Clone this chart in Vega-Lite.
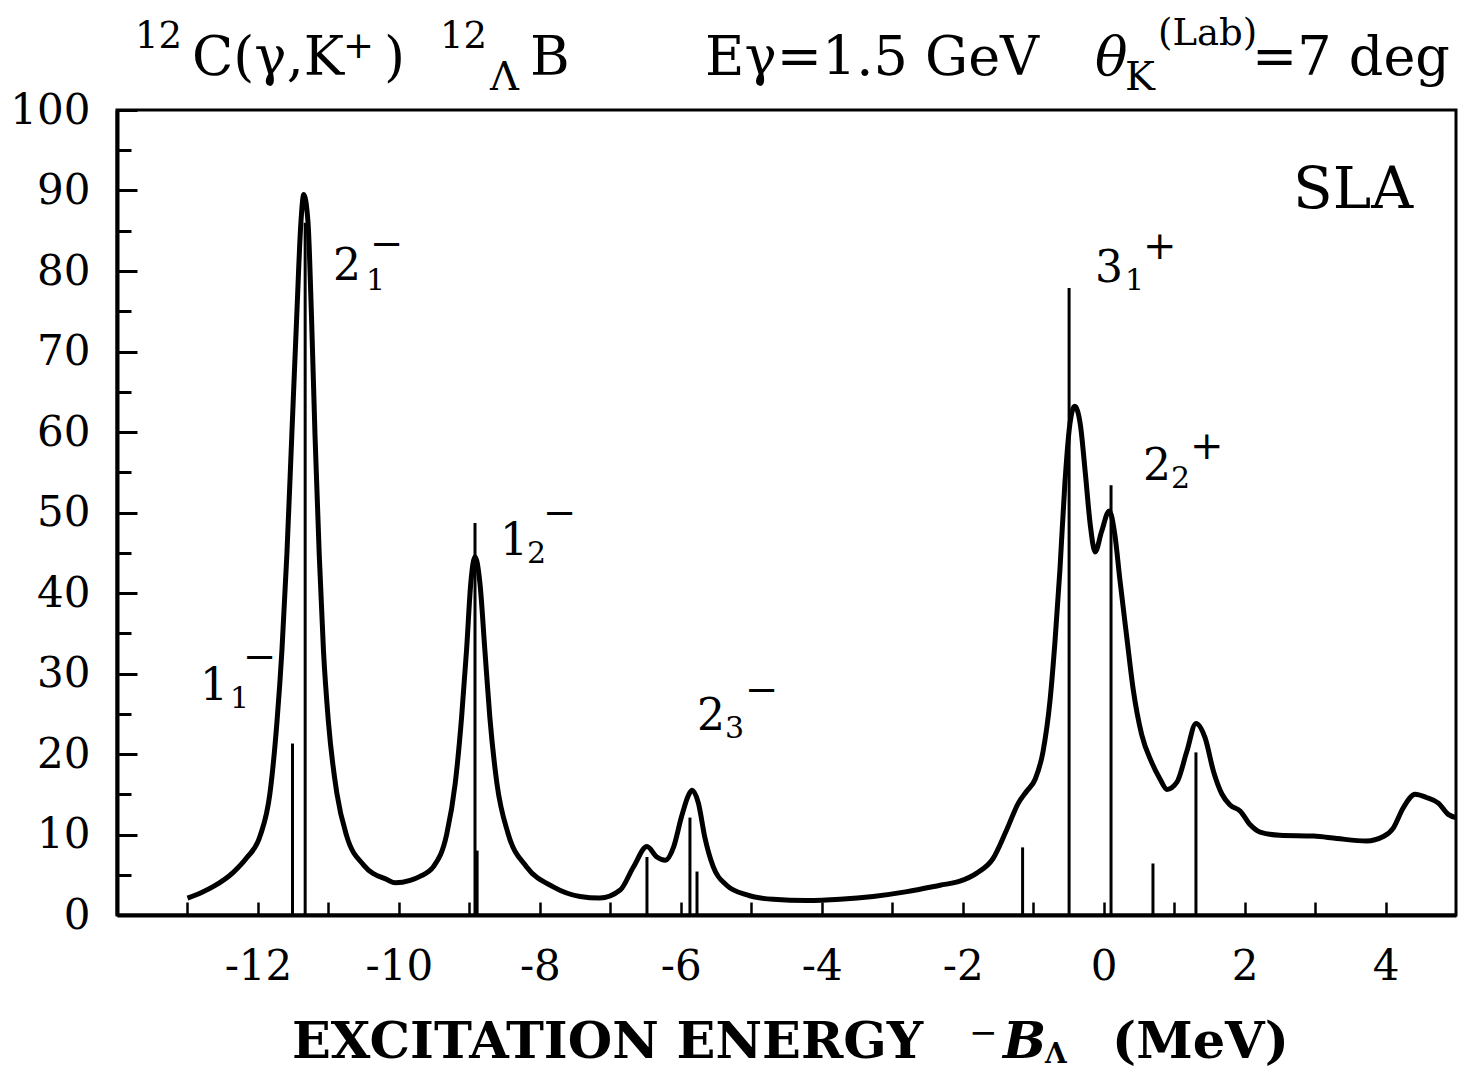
{
  "$schema": "https://vega.github.io/schema/vega-lite/v6.json",
  "width": 1339,
  "height": 805,
  "autosize": {"type": "none"},
  "padding": {"left": 117, "top": 110, "right": 4, "bottom": 154},
  "background": "white",
  "config": {
    "view": {"stroke": "black", "strokeWidth": 3},
    "text": {"font": "DejaVu Serif", "color": "black", "align": "left", "baseline": "alphabetic"}
  },
  "datasets": {
    "curve": [
      {"e": -13.0, "s": 2.1}, {"e": -12.8, "s": 2.8}, {"e": -12.63, "s": 3.55}, {"e": -12.35, "s": 5.3},
      {"e": -12.16, "s": 7.1}, {"e": -11.97, "s": 9.8}, {"e": -11.83, "s": 15.1}, {"e": -11.73, "s": 24.0},
      {"e": -11.66, "s": 32.8}, {"e": -11.59, "s": 44.7}, {"e": -11.52, "s": 59.5}, {"e": -11.45, "s": 74.3},
      {"e": -11.39, "s": 86.1}, {"e": -11.35, "s": 89.5}, {"e": -11.29, "s": 86.1}, {"e": -11.24, "s": 74.3},
      {"e": -11.19, "s": 59.5}, {"e": -11.13, "s": 44.7}, {"e": -11.07, "s": 32.8}, {"e": -11.0, "s": 24.0},
      {"e": -10.88, "s": 15.1}, {"e": -10.74, "s": 9.8}, {"e": -10.5, "s": 6.2}, {"e": -10.17, "s": 4.4},
      {"e": -10.05, "s": 4.0}, {"e": -9.84, "s": 4.3}, {"e": -9.7, "s": 4.8}, {"e": -9.51, "s": 6.0},
      {"e": -9.32, "s": 10.1}, {"e": -9.2, "s": 16.4}, {"e": -9.11, "s": 24.6}, {"e": -9.04, "s": 32.9},
      {"e": -8.98, "s": 41.2}, {"e": -8.92, "s": 44.5}, {"e": -8.85, "s": 41.2}, {"e": -8.78, "s": 32.9},
      {"e": -8.71, "s": 24.6}, {"e": -8.61, "s": 16.4}, {"e": -8.45, "s": 10.1}, {"e": -8.19, "s": 6.0},
      {"e": -7.81, "s": 3.5}, {"e": -7.43, "s": 2.3}, {"e": -7.15, "s": 2.1}, {"e": -6.86, "s": 3.1},
      {"e": -6.67, "s": 6.0}, {"e": -6.48, "s": 8.5}, {"e": -6.34, "s": 7.2}, {"e": -6.22, "s": 6.8},
      {"e": -6.1, "s": 8.5}, {"e": -5.99, "s": 12.2}, {"e": -5.89, "s": 14.9}, {"e": -5.84, "s": 15.5},
      {"e": -5.75, "s": 13.9}, {"e": -5.66, "s": 9.7}, {"e": -5.54, "s": 6.0}, {"e": -5.35, "s": 3.7},
      {"e": -5.06, "s": 2.5}, {"e": -4.69, "s": 1.95}, {"e": -4.21, "s": 1.8}, {"e": -3.74, "s": 1.95},
      {"e": -3.27, "s": 2.3}, {"e": -2.79, "s": 2.9}, {"e": -2.32, "s": 3.7}, {"e": -2.04, "s": 4.2},
      {"e": -1.8, "s": 5.2}, {"e": -1.57, "s": 7.0}, {"e": -1.38, "s": 10.5}, {"e": -1.21, "s": 13.9},
      {"e": -1.09, "s": 15.4}, {"e": -0.97, "s": 16.9}, {"e": -0.86, "s": 20.3}, {"e": -0.76, "s": 26.7},
      {"e": -0.69, "s": 34.0}, {"e": -0.62, "s": 42.9}, {"e": -0.55, "s": 53.6}, {"e": -0.48, "s": 60.9},
      {"e": -0.41, "s": 63.2}, {"e": -0.33, "s": 60.9}, {"e": -0.26, "s": 54.9}, {"e": -0.19, "s": 48.5},
      {"e": -0.12, "s": 45.1}, {"e": -0.03, "s": 47.6}, {"e": 0.08, "s": 50.2}, {"e": 0.16, "s": 47.2},
      {"e": 0.23, "s": 41.7}, {"e": 0.33, "s": 34.4}, {"e": 0.42, "s": 28.0}, {"e": 0.54, "s": 22.4},
      {"e": 0.68, "s": 19.0}, {"e": 0.8, "s": 16.9}, {"e": 0.9, "s": 15.6}, {"e": 1.04, "s": 16.5},
      {"e": 1.18, "s": 20.3}, {"e": 1.31, "s": 23.8}, {"e": 1.44, "s": 22.0}, {"e": 1.56, "s": 17.8},
      {"e": 1.68, "s": 15.0}, {"e": 1.79, "s": 13.7}, {"e": 1.94, "s": 12.9}, {"e": 2.08, "s": 11.2},
      {"e": 2.22, "s": 10.3}, {"e": 2.5, "s": 9.9}, {"e": 2.98, "s": 9.8}, {"e": 3.31, "s": 9.5},
      {"e": 3.73, "s": 9.2}, {"e": 3.97, "s": 9.75}, {"e": 4.11, "s": 10.8}, {"e": 4.25, "s": 13.3},
      {"e": 4.42, "s": 15.0}, {"e": 4.58, "s": 14.6}, {"e": 4.75, "s": 13.9}, {"e": 4.89, "s": 12.5},
      {"e": 5.0, "s": 12.1}
    ],
    "sticks": [
      {"e": -11.51, "s": 21.3}, {"e": -11.33, "s": 86.0}, {"e": -8.92, "s": 48.7}, {"e": -8.89, "s": 8.0},
      {"e": -6.48, "s": 7.2}, {"e": -5.87, "s": 12.1}, {"e": -5.77, "s": 5.4}, {"e": -1.15, "s": 8.4},
      {"e": -0.49, "s": 77.9}, {"e": 0.105, "s": 53.4}, {"e": 0.7, "s": 6.4}, {"e": 1.31, "s": 20.2}
    ],
    "titleMain": [
      {"e": -12.936, "s": 104.35, "t": "C(γ,K"},
      {"e": -10.211, "s": 104.35, "t": ")"},
      {"e": -8.139, "s": 104.35, "t": "B"},
      {"e": -5.656, "s": 104.35, "t": "Eγ=1.5 GeV"},
      {"e": 2.106, "s": 104.35, "t": "=7 deg"}
    ],
    "titleSup": [
      {"e": -13.745, "s": 107.7, "t": "12"},
      {"e": -10.793, "s": 106.46, "t": "+"},
      {"e": -9.416, "s": 107.7, "t": "12"},
      {"e": 0.772, "s": 108.07, "t": "(Lab)"}
    ],
    "titleSub": [
      {"e": -8.707, "s": 102.48, "t": "Λ"},
      {"e": 0.304, "s": 102.48, "t": "K"}
    ],
    "titleItalic": [
      {"e": -0.122, "s": 104.35, "t": "θ"}
    ],
    "axisTitleBold": [
      {"e": -11.517, "s": -17.76, "t": "EXCITATION ENERGY"},
      {"e": 0.12, "s": -17.76, "t": "(MeV)"}
    ],
    "axisTitleMinus": [
      {"e": -1.91, "s": -16.02, "t": "−"}
    ],
    "axisTitleItalic": [
      {"e": -1.427, "s": -17.76, "t": "B"}
    ],
    "axisTitleSub": [
      {"e": -0.831, "s": -18.38, "t": "Λ"}
    ],
    "stateMain": [
      {"e": -10.935, "s": 78.88, "t": "2"},
      {"e": -12.822, "s": 26.71, "t": "1"},
      {"e": -8.565, "s": 44.72, "t": "1"},
      {"e": -5.77, "s": 22.98, "t": "2"},
      {"e": -0.122, "s": 78.63, "t": "3"},
      {"e": 0.559, "s": 54.04, "t": "2"}
    ],
    "stateSub": [
      {"e": -10.467, "s": 77.64, "t": "1"},
      {"e": -12.397, "s": 25.71, "t": "1"},
      {"e": -8.182, "s": 43.73, "t": "2"},
      {"e": -5.372, "s": 21.99, "t": "3"},
      {"e": 0.304, "s": 77.64, "t": "1"},
      {"e": 0.957, "s": 53.04, "t": "2"}
    ],
    "stateSup": [
      {"e": -10.41, "s": 81.74, "t": "−"},
      {"e": -12.212, "s": 30.43, "t": "−"},
      {"e": -7.955, "s": 48.32, "t": "−"},
      {"e": -5.088, "s": 26.34, "t": "−"},
      {"e": 0.559, "s": 81.49, "t": "+"},
      {"e": 1.226, "s": 56.65, "t": "+"}
    ],
    "model": [
      {"e": 2.688, "s": 87.83, "t": "SLA"}
    ]
  },
  "resolve": {"axis": {"x": "independent", "y": "independent"}},
  "layer": [
    {
      "data": {"name": "curve"},
      "mark": {"type": "line", "color": "black", "strokeWidth": 5, "interpolate": "monotone"},
      "encoding": {
        "x": {
          "field": "e", "type": "quantitative",
          "scale": {"domain": [-14, 5], "nice": false, "zero": false},
          "axis": {
            "orient": "bottom",
            "values": [-13, -12, -11, -10, -9, -8, -7, -6, -5, -4, -3, -2, -1, 0, 1, 2, 3, 4],
            "labelExpr": "datum.value % 2 === 0 ? replace(datum.label, '−', '-') : ''",
            "tickSize": -13, "tickWidth": 2.5, "tickColor": "black",
            "domainColor": "black", "domainWidth": 4,
            "labelFont": "DejaVu Serif", "labelFontSize": 42, "labelColor": "black",
            "labelPadding": 44, "labelFlush": false, "labelOverlap": false,
            "grid": false, "title": null
          }
        },
        "y": {
          "field": "s", "type": "quantitative",
          "scale": {"domain": [0, 100], "nice": false, "zero": false},
          "axis": {
            "orient": "left",
            "values": [0, 10, 20, 30, 40, 50, 60, 70, 80, 90, 100],
            "tickSize": -20, "tickWidth": 3, "tickColor": "black",
            "domainColor": "black", "domainWidth": 4,
            "labelFont": "DejaVu Serif", "labelFontSize": 42, "labelColor": "black",
            "labelPadding": 47, "labelFlush": false, "labelOverlap": false,
            "grid": false, "title": null
          }
        }
      }
    },
    {
      "data": {"name": "sticks"},
      "mark": {"type": "rule", "color": "black", "strokeWidth": 3},
      "encoding": {
        "x": {"field": "e", "type": "quantitative", "axis": null},
        "y": {
          "field": "s", "type": "quantitative",
          "axis": {
            "orient": "left",
            "values": [5, 15, 25, 35, 45, 55, 65, 75, 85, 95],
            "tickSize": -14, "tickWidth": 3, "tickColor": "black",
            "domain": false, "labels": false, "grid": false, "title": null
          }
        },
        "y2": {"datum": 0}
      }
    },
    {
      "data": {"name": "titleMain"},
      "mark": {"type": "text", "fontSize": 54},
      "encoding": {
        "x": {"field": "e", "type": "quantitative", "axis": null},
        "y": {"field": "s", "type": "quantitative", "axis": null},
        "text": {"field": "t"}
      }
    },
    {
      "data": {"name": "titleSup"},
      "mark": {"type": "text", "fontSize": 37},
      "encoding": {
        "x": {"field": "e", "type": "quantitative", "axis": null},
        "y": {"field": "s", "type": "quantitative", "axis": null},
        "text": {"field": "t"}
      }
    },
    {
      "data": {"name": "titleSub"},
      "mark": {"type": "text", "fontSize": 40},
      "encoding": {
        "x": {"field": "e", "type": "quantitative", "axis": null},
        "y": {"field": "s", "type": "quantitative", "axis": null},
        "text": {"field": "t"}
      }
    },
    {
      "data": {"name": "titleItalic"},
      "mark": {"type": "text", "fontSize": 54, "fontStyle": "italic"},
      "encoding": {
        "x": {"field": "e", "type": "quantitative", "axis": null},
        "y": {"field": "s", "type": "quantitative", "axis": null},
        "text": {"field": "t"}
      }
    },
    {
      "data": {"name": "axisTitleBold"},
      "mark": {"type": "text", "fontSize": 51, "fontWeight": "bold"},
      "encoding": {
        "x": {"field": "e", "type": "quantitative", "axis": null},
        "y": {"field": "s", "type": "quantitative", "axis": null},
        "text": {"field": "t"}
      }
    },
    {
      "data": {"name": "axisTitleMinus"},
      "mark": {"type": "text", "fontSize": 34},
      "encoding": {
        "x": {"field": "e", "type": "quantitative", "axis": null},
        "y": {"field": "s", "type": "quantitative", "axis": null},
        "text": {"field": "t"}
      }
    },
    {
      "data": {"name": "axisTitleItalic"},
      "mark": {"type": "text", "fontSize": 51, "fontWeight": "bold", "fontStyle": "italic"},
      "encoding": {
        "x": {"field": "e", "type": "quantitative", "axis": null},
        "y": {"field": "s", "type": "quantitative", "axis": null},
        "text": {"field": "t"}
      }
    },
    {
      "data": {"name": "axisTitleSub"},
      "mark": {"type": "text", "fontSize": 28, "fontWeight": "bold"},
      "encoding": {
        "x": {"field": "e", "type": "quantitative", "axis": null},
        "y": {"field": "s", "type": "quantitative", "axis": null},
        "text": {"field": "t"}
      }
    },
    {
      "data": {"name": "stateMain"},
      "mark": {"type": "text", "fontSize": 44},
      "encoding": {
        "x": {"field": "e", "type": "quantitative", "axis": null},
        "y": {"field": "s", "type": "quantitative", "axis": null},
        "text": {"field": "t"}
      }
    },
    {
      "data": {"name": "stateSub"},
      "mark": {"type": "text", "fontSize": 30},
      "encoding": {
        "x": {"field": "e", "type": "quantitative", "axis": null},
        "y": {"field": "s", "type": "quantitative", "axis": null},
        "text": {"field": "t"}
      }
    },
    {
      "data": {"name": "stateSup"},
      "mark": {"type": "text", "fontSize": 40},
      "encoding": {
        "x": {"field": "e", "type": "quantitative", "axis": null},
        "y": {"field": "s", "type": "quantitative", "axis": null},
        "text": {"field": "t"}
      }
    },
    {
      "data": {"name": "model"},
      "mark": {"type": "text", "fontSize": 58},
      "encoding": {
        "x": {"field": "e", "type": "quantitative", "axis": null},
        "y": {"field": "s", "type": "quantitative", "axis": null},
        "text": {"field": "t"}
      }
    }
  ]
}
